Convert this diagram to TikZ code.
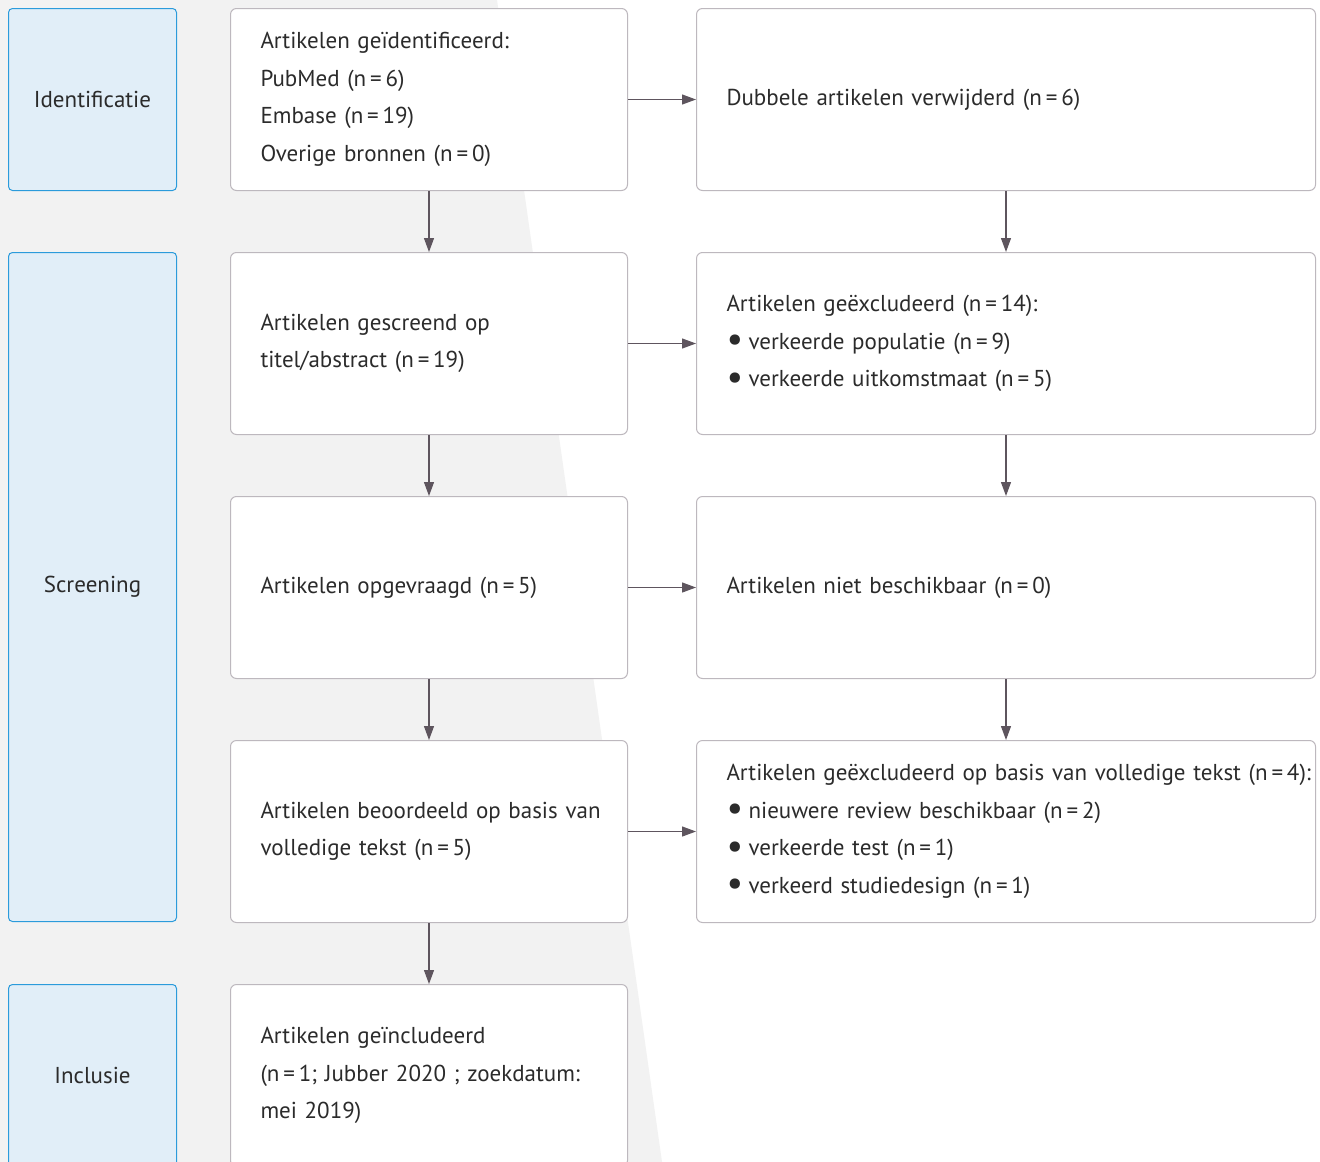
\documentclass[tikz,border=0pt]{standalone}
\usepackage{fontspec}
\setmainfont[WordSpace=0.8]{PT Sans}
\usepackage{xcolor}
\usetikzlibrary{arrows.meta,positioning,calc}

\definecolor{bggray}{HTML}{F2F2F2}
\definecolor{stagefill}{HTML}{E1EEF8}
\definecolor{stageline}{HTML}{2B9BDB}
\definecolor{boxline}{HTML}{BDB8BE}
\definecolor{arrowc}{HTML}{5E555E}
\definecolor{txt}{HTML}{2B2B2B}

\newcommand{\blt}{\makebox[22pt][l]{\raisebox{-2.5pt}{\scalebox{1.6}{\textbullet}}}}

\begin{document}
\begin{tikzpicture}[x=1pt,y=-1pt,
			every node/.style={font=\fontsize{23}{37.5}\selectfont, text=txt},
			stage/.style={draw=stageline, fill=stagefill, line width=1pt, rounded corners=4pt, minimum width=168pt, inner sep=0pt, align=center},
			stepbox/.style={draw=boxline, fill=white, line width=1pt, rounded corners=6pt, minimum width=397pt, minimum height=182pt, text width=337pt, inner xsep=30pt, inner ysep=0pt, align=left},
			outbox/.style={stepbox, minimum width=619pt, text width=559pt},
			ar/.style={-{Triangle[length=14pt,width=10pt]}, draw=arrowc, fill=arrowc, line width=1.2pt}]
			\clip (0,0) rectangle (1320,1162);
			% achtergrond
			\fill[white] (0,0) rectangle (1320,1162);
			\fill[bggray] (0,0) -- (497,0) -- (662,1162) -- (0,1162) -- cycle;
			% middelste kolom
			\node[stepbox, anchor=north west] (ident) at (230,8) {Artikelen geïdentificeerd:\\ PubMed (n\,=\,6)\\ Embase (n\,=\,19)\\ Overige bronnen (n\,=\,0)};
			\node[stepbox, below=61pt of ident] (screen) {Artikelen gescreend op\\ titel/abstract (n\,=\,19)};
			\node[stepbox, below=61pt of screen] (opgev) {Artikelen opgevraagd (n\,=\,5)};
			\node[stepbox, below=61pt of opgev] (beoord) {\mbox{Artikelen beoordeeld op basis van}\\ volledige tekst (n\,=\,5)};
			\node[stepbox, below=61pt of beoord] (incl) {Artikelen geïncludeerd\\ (n\,=\,1; Jubber 2020 ; zoekdatum:\\ mei 2019)};
			% rechter kolom
			\node[outbox, right=68pt of ident] (dubbel) {Dubbele artikelen verwijderd (n\,=\,6)};
			\node[outbox, right=68pt of screen] (excl) {Artikelen geëxcludeerd (n\,=\,14):\\ \blt verkeerde populatie (n\,=\,9)\\ \blt verkeerde uitkomstmaat (n\,=\,5)};
			\node[outbox, right=68pt of opgev] (nietb) {Artikelen niet beschikbaar (n\,=\,0)};
			\node[outbox, right=68pt of beoord] (exclft) {\mbox{Artikelen geëxcludeerd op basis van volledige tekst (n\,=\,4):}\\ \blt nieuwere review beschikbaar (n\,=\,2)\\ \blt verkeerde test (n\,=\,1)\\ \blt verkeerd studiedesign (n\,=\,1)};
			% fasen
			\node[stage, minimum height=182pt, left=53pt of ident] (fase1) {Identificatie};
			\node[stage, minimum height=669pt, anchor=north east] (fase2) at ([xshift=-53pt]screen.north west) {Screening};
			\node[stage, minimum height=182pt, left=53pt of incl] (fase3) {Inclusie};
			% pijlen
			\draw[ar] (ident) -- (screen);
			\draw[ar] (screen) -- (opgev);
			\draw[ar] (opgev) -- (beoord);
			\draw[ar] (beoord) -- (incl);
			\draw[ar] (dubbel) -- (excl);
			\draw[ar] (excl) -- (nietb);
			\draw[ar] (nietb) -- (exclft);
			\draw[ar] (ident) -- (dubbel);
			\draw[ar] (screen) -- (excl);
			\draw[ar] (opgev) -- (nietb);
			\draw[ar] (beoord) -- (exclft);
		\end{tikzpicture}
\end{document}
